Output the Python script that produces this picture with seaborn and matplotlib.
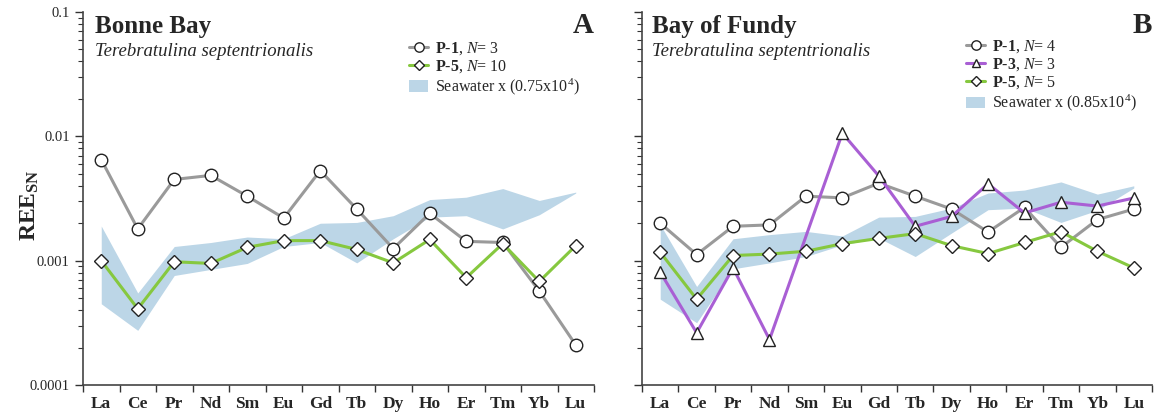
import numpy as np
import pandas as pd
import matplotlib
matplotlib.use("Agg")
import matplotlib.pyplot as plt
from matplotlib.lines import Line2D
from matplotlib.patches import Patch
from matplotlib.ticker import FixedLocator, NullFormatter, LogLocator
import seaborn as sns

# ---------------- data ----------------
ree = ["La", "Ce", "Pr", "Nd", "Sm", "Eu", "Gd", "Tb", "Dy", "Ho", "Er", "Tm", "Yb", "Lu"]

# Panel A: Bonne Bay
a_p1 = [0.0065, 0.0018, 0.0045, 0.00485, 0.0033, 0.0022, 0.0053, 0.0026, 0.00125, 0.0024, 0.00143, 0.0014, 0.00057, 0.00021]
a_p5 = [0.0010, 0.00041, 0.00098, 0.00095, 0.00128, 0.00145, 0.00145, 0.00123, 0.00096, 0.00148, 0.00073, 0.00137, 0.00068, 0.00132]
a_sw_hi = [0.0019, 0.00055, 0.0013, 0.0014, 0.00155, 0.0015, 0.0020, 0.00203, 0.0023, 0.0031, 0.00324, 0.0038, 0.00305, 0.00356]
a_sw_lo = [0.00045, 0.000275, 0.00076, 0.00085, 0.00095, 0.0013, 0.0014, 0.00096, 0.0015, 0.00224, 0.0023, 0.0018, 0.00234, 0.0035]

# Panel B: Bay of Fundy
b_p1 = [0.0020, 0.00112, 0.00189, 0.00194, 0.0033, 0.0032, 0.0042, 0.0033, 0.0026, 0.0017, 0.00268, 0.00128, 0.00214, 0.0026]
b_p3 = [0.00081, 0.000263, 0.000875, 0.000232, np.nan, 0.0106, 0.0048, 0.00189, 0.00227, 0.00415, 0.00242, 0.00295, 0.00275, 0.00319]
b_p5 = [0.00117, 0.00049, 0.0011, 0.00113, 0.00119, 0.00137, 0.00151, 0.00165, 0.00132, 0.00114, 0.0014, 0.00171, 0.00119, 0.000875]
b_sw_hi = [0.00195, 0.00062, 0.0015, 0.00162, 0.00172, 0.00158, 0.00224, 0.00227, 0.00265, 0.0035, 0.0037, 0.0043, 0.00343, 0.0040]
b_sw_lo = [0.00049, 0.000317, 0.00086, 0.00096, 0.00108, 0.00134, 0.00152, 0.00108, 0.00167, 0.00257, 0.00265, 0.00203, 0.00254, 0.00384]

titles = ["Bonne Bay", "Bay of Fundy"]
letters = ["A", "B"]
species = "Terebratulina septentrionalis"
a_labels = ["$\\mathbf{P\u20101}$, $N$= 3", "$\\mathbf{P\u20105}$, $N$= 10", r"Seawater x (0.75x10$^{4}$)"]
b_labels = ["$\\mathbf{P\u20101}$, $N$= 4", "$\\mathbf{P\u20103}$, $N$= 3", "$\\mathbf{P\u20105}$, $N$= 5", r"Seawater x (0.85x10$^{4}$)"]

# ---------------- style ----------------
sns.set_style("ticks")
plt.rcParams["font.family"] = ["Liberation Serif", "DejaVu Serif"]
plt.rcParams["mathtext.fontset"] = "custom"
plt.rcParams["mathtext.rm"] = "Liberation Serif"
plt.rcParams["mathtext.it"] = "Liberation Serif:italic"
plt.rcParams["mathtext.bf"] = "Liberation Serif:bold"

C_P1 = "#9a9a9a"
C_P3 = "#a95fd4"
C_P5 = "#86c83f"
C_SW = "#bcd6e7"

styles = {
    "P1": dict(color=C_P1, marker="o", ms=9.0),
    "P3": dict(color=C_P3, marker="^", ms=8.5),
    "P5": dict(color=C_P5, marker="D", ms=6.8),
}

W, H = 1161, 415
fig = plt.figure(figsize=(W / 100, H / 100), dpi=100)
ax_a = fig.add_axes([83 / W, 1 - 385 / H, 511 / W, 373 / H])
ax_b = fig.add_axes([642 / W, 1 - 385 / H, 510 / W, 373 / H])

x = np.arange(len(ree))


def draw_series(ax, vals, key, label):
    df = pd.DataFrame({"x": x, "y": vals})
    st = styles[key]
    sns.lineplot(data=df, x="x", y="y", ax=ax, color=st["color"], lw=2.2,
                 marker=st["marker"], markersize=st["ms"], markerfacecolor="white",
                 markeredgecolor="#222222", markeredgewidth=1.0, label=label,
                 legend=False, zorder=3)


def handle(key):
    st = styles[key]
    return Line2D([], [], color=st["color"], lw=2.2, marker=st["marker"],
                  markersize=st["ms"] * 0.75, markerfacecolor="white",
                  markeredgecolor="#222222", markeredgewidth=1.0)


def style_axis(ax, show_labels):
    ax.set_yscale("log")
    ax.set_ylim(1e-4, 1e-1)
    ax.set_xlim(-0.5, 13.5)
    ax.yaxis.set_major_locator(FixedLocator([1e-4, 1e-3, 1e-2, 1e-1]))
    ax.yaxis.set_minor_locator(LogLocator(base=10, subs=np.arange(2, 10)))
    ax.yaxis.set_minor_formatter(NullFormatter())
    if show_labels:
        ax.set_yticklabels(["0.0001", "0.001", "0.01", "0.1"])
    else:
        ax.set_yticklabels([])
    ax.set_xticks(x)
    ax.set_xticklabels(ree, fontweight="bold", fontsize=12.5)
    ax.set_xticks(np.arange(-0.5, 14, 1), minor=True)
    ax.tick_params(axis="x", which="major", length=0, pad=8)
    ax.tick_params(axis="x", which="minor", length=5, width=1, color="#333333")
    ax.tick_params(axis="y", which="major", length=6, width=1, labelsize=10.5, color="#333333")
    ax.tick_params(axis="y", which="minor", length=3.5, width=0.8, color="#333333")
    ax.set_xlabel("")
    ax.set_ylabel("")
    for s in ["top", "right"]:
        ax.spines[s].set_visible(False)
    for s in ["left", "bottom"]:
        ax.spines[s].set_color("#444444")
        ax.spines[s].set_linewidth(1.2)


# Panel A
ax_a.fill_between(x, a_sw_lo, a_sw_hi, color=C_SW, lw=0, zorder=1)
draw_series(ax_a, a_p1, "P1", a_labels[0])
draw_series(ax_a, a_p5, "P5", a_labels[1])
style_axis(ax_a, True)

# Panel B
ax_b.fill_between(x, b_sw_lo, b_sw_hi, color=C_SW, lw=0, zorder=1)
draw_series(ax_b, b_p1, "P1", b_labels[0])
draw_series(ax_b, b_p3, "P3", b_labels[1])
draw_series(ax_b, b_p5, "P5", b_labels[2])
style_axis(ax_b, False)

# titles
for ax, t, letter in [(ax_a, titles[0], letters[0]), (ax_b, titles[1], letters[1])]:
    ax.text(0.024 if ax is ax_a else 0.02, 0.96, t, transform=ax.transAxes,
            fontsize=18, fontweight="bold", va="center", ha="left")
    ax.text(0.024 if ax is ax_a else 0.02, 0.893, species, transform=ax.transAxes,
            fontsize=13.5, fontstyle="italic", va="center", ha="left")
    ax.text(1.0, 0.965, letter, transform=ax.transAxes,
            fontsize=21, fontweight="bold", va="center", ha="right")

# legends
sw_patch = Patch(facecolor=C_SW, edgecolor="none")
leg_kw = dict(frameon=False, fontsize=11.5, handlelength=1.2, handletextpad=0.4,
              labelspacing=0.1, borderpad=0, borderaxespad=0, loc="upper left")
ax_a.legend([handle("P1"), handle("P5"), sw_patch], a_labels,
            bbox_to_anchor=((409 - 83) / 511, (385 - 40) / 373), **leg_kw)
ax_b.legend([handle("P1"), handle("P3"), handle("P5"), sw_patch], b_labels,
            bbox_to_anchor=((966 - 642) / 510, (385 - 38) / 373), **leg_kw)

fig.text(30 / W, 1 - 205 / H, r"$\mathbf{REE_{SN}}$", rotation=90,
         fontsize=17, va="center", ha="center")

fig.savefig("out.png", dpi=100)
